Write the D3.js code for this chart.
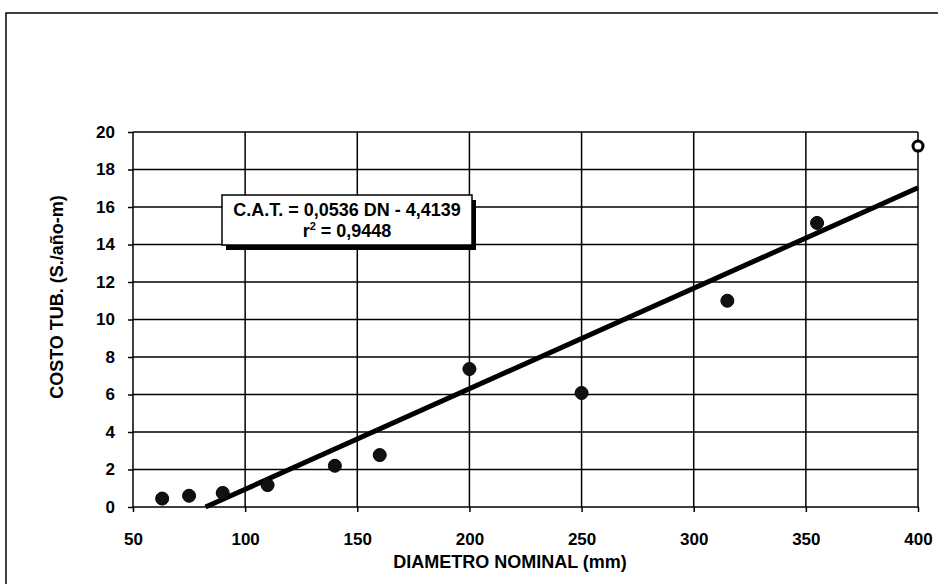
<!DOCTYPE html>
<html>
	<head>
		<meta charset="utf-8"/>
		<script type="text/javascript" src="https://cdn.jsdelivr.net/npm/d3@7/dist/d3.min.js"></script>
		<style>
			body { margin:0; background:#fff }
			text { font-family:"Liberation Sans", Arial, sans-serif; font-weight:bold; fill:#000 }
			.grid line { stroke:#000; stroke-width:1.5 }
		</style>
	</head>
	<body>
		<script>
			// diameters (mm) and cost values
			var diam = [63, 75, 90, 110, 140, 160, 200, 250, 315, 355, 400];
			var cost = [0.45, 0.6, 0.75, 1.17, 2.2, 2.77, 7.36, 6.08, 11.0, 15.15, 19.25];
			var hollow = [false, false, false, false, false, false, false, false, false, false, true];
			var xTicks = [50, 100, 150, 200, 250, 300, 350, 400];
			var yTicks = [0, 2, 4, 6, 8, 10, 12, 14, 16, 18, 20];
			var slope = 0.0536, intercept = -4.4139;

			var W = 938, H = 584;
			var plotLeft = 133, plotRight = 918, plotTop = 132, plotBottom = 507;

			var svg = d3.select("body").append("svg").attr("width", W).attr("height", H);

			// outer border
			svg.append("path")
				.attr("d", "M6," + H + "V13H" + W)
				.attr("fill", "none").attr("stroke", "#000").attr("stroke-width", 1.5);

			var x = d3.scaleLinear().domain([50, 400]).range([plotLeft, plotRight]);
			var y = d3.scaleLinear().domain([0, 20]).range([plotBottom, plotTop]);

			// grid
			var grid = svg.append("g").attr("class", "grid");
			grid.selectAll(".h").data(yTicks).enter().append("line")
				.attr("x1", plotLeft).attr("x2", plotRight)
				.attr("y1", d => y(d)).attr("y2", d => y(d));
			grid.selectAll(".v").data(xTicks).enter().append("line")
				.attr("x1", d => x(d)).attr("x2", d => x(d))
				.attr("y1", plotTop).attr("y2", plotBottom);

			var xAxis = svg.append("g").attr("transform", "translate(0," + plotBottom + ")")
				.call(d3.axisBottom(x).tickValues(xTicks).tickSize(5).tickPadding(21));
			var yAxis = svg.append("g").attr("transform", "translate(" + plotLeft + ",0)")
				.call(d3.axisLeft(y).tickValues(yTicks).tickSize(5).tickPadding(13));
			[xAxis, yAxis].forEach(function(a) {
				a.select(".domain").remove();
				a.selectAll(".tick line").attr("stroke", "#000").attr("stroke-width", 1.5);
				a.selectAll(".tick text").attr("fill", "#000")
					.style("font-family", "'Liberation Sans', Arial, sans-serif")
					.style("font-weight", "bold").style("font-size", "17px");
			});

			// trend line
			var x0 = -intercept / slope;
			svg.append("line")
				.attr("x1", x(x0)).attr("y1", y(0))
				.attr("x2", x(400)).attr("y2", y(slope * 400 + intercept))
				.attr("stroke", "#000").attr("stroke-width", 5);

			// points
			svg.selectAll(".pt").data(diam).enter().append("circle")
				.attr("cx", d => x(d))
				.attr("cy", (d, i) => y(cost[i]))
				.attr("r", (d, i) => hollow[i] ? 5 : 6.5)
				.attr("fill", (d, i) => hollow[i] ? "#fff" : "#111")
				.attr("stroke", "#000")
				.attr("stroke-width", (d, i) => hollow[i] ? 3 : 1);

			// equation box
			var bx = 222, by = 195, bw = 250, bh = 50;
			svg.append("rect").attr("x", bx + 4).attr("y", by + 5).attr("width", bw).attr("height", bh).attr("fill", "#000");
			svg.append("rect").attr("x", bx).attr("y", by).attr("width", bw).attr("height", bh)
				.attr("fill", "#fff").attr("stroke", "#000").attr("stroke-width", 1.5);
			svg.append("text").attr("x", bx + bw / 2).attr("y", by + 21).attr("text-anchor", "middle")
				.style("font-size", "18px").text("C.A.T. = 0,0536 DN - 4,4139");
			var r2 = svg.append("text").attr("x", bx + bw / 2).attr("y", by + 42).attr("text-anchor", "middle")
				.style("font-size", "18px");
			r2.append("tspan").text("r");
			r2.append("tspan").attr("dy", -7).style("font-size", "11px").text("2");
			r2.append("tspan").attr("dy", 7).text(" = 0,9448");

			// axis titles
			svg.append("text").attr("x", 510).attr("y", 568).attr("text-anchor", "middle")
				.style("font-size", "18px").text("DIAMETRO NOMINAL (mm)");
			svg.append("text").attr("transform", "translate(63,297) rotate(-90)")
				.attr("text-anchor", "middle").style("font-size", "18px").text("COSTO TUB. (S./año-m)");
		</script>
	</body>
</html>
